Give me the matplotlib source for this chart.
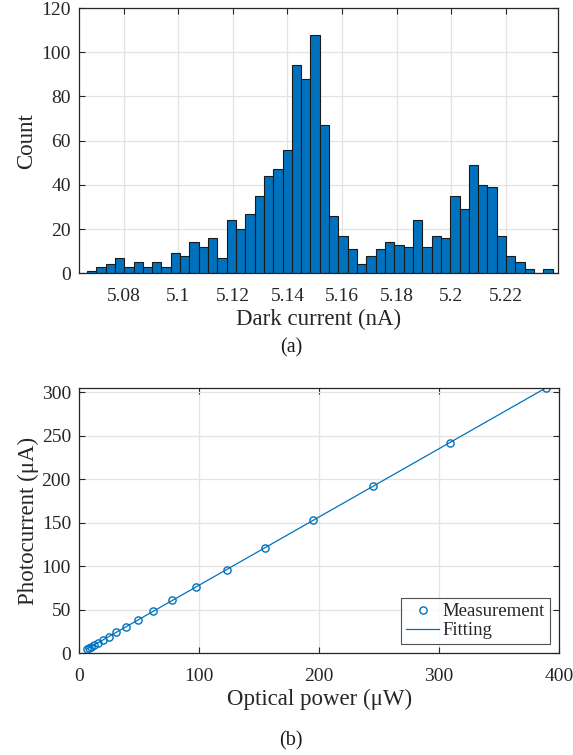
import numpy as np
import matplotlib
matplotlib.use("Agg")
import matplotlib.pyplot as plt

plt.rcParams["font.family"] = ["Liberation Serif", "DejaVu Serif"]

MATLAB_BLUE = "#0072BD"
AX_GRAY = "#262626"

# (a) dark current histogram: 50 equal bins
bin_start = 5.0666
bin_width = 0.003411
dark_counts = [1, 3, 4, 7, 3, 5, 3, 5, 3, 9,
               8, 14, 12, 16, 7, 24, 20, 27, 35, 44,
               47, 56, 94, 88, 108, 67, 26, 17, 11, 4,
               8, 11, 14, 13, 12, 24, 12, 17, 16, 35,
               29, 49, 40, 39, 17, 8, 5, 2, 0, 2]
dark_ticks = [5.08, 5.1, 5.12, 5.14, 5.16, 5.18, 5.2, 5.22]
dark_tick_labels = ["5.08", "5.1", "5.12", "5.14", "5.16", "5.18", "5.2", "5.22"]

# (b) photocurrent vs optical power
optical_power = [6.2, 7.8, 9.8, 12.3, 15.5, 19.5, 24.6, 30.9, 38.9, 49.0,
                 61.6, 77.6, 97.6, 122.9, 154.8, 194.8, 245.3, 308.8, 388.8]
photocurrent = [4.8, 6.1, 7.7, 9.6, 12.2, 15.3, 19.3, 24.2, 30.5, 38.4,
                48.3, 60.9, 76.2, 96.1, 121.2, 152.8, 192.2, 242.0, 305.2]


def style_axes(ax):
    ax.set_axisbelow(True)
    ax.grid(True, color="#e3e3e3", linewidth=0.9)
    for sp in ax.spines.values():
        sp.set_color(AX_GRAY)
        sp.set_linewidth(0.9)
    ax.tick_params(direction="in", top=True, right=True, length=4,
                   width=0.8, color=AX_GRAY, labelcolor=AX_GRAY,
                   labelsize=14)
    ax.tick_params(axis="x", pad=10.5)
    ax.tick_params(axis="y", pad=6)


fig = plt.figure(figsize=(5.73, 7.55), dpi=100)

ax1 = fig.add_axes([0.1379, 0.638, 0.8364, 0.3514])
edges = bin_start + bin_width * np.arange(len(dark_counts) + 1)
ax1.bar(edges[:-1], dark_counts, width=bin_width, align="edge",
        color=MATLAB_BLUE, edgecolor="#1a1a1a", linewidth=0.8)
ax1.set_xlim(5.0637, 5.2392)
ax1.set_ylim(0, 120)
ax1.set_xticks(dark_ticks)
ax1.set_xticklabels(dark_tick_labels)
ax1.set_yticks(range(0, 121, 20))
style_axes(ax1)
ax1.set_xlabel("Dark current (nA)", fontsize=16.5, color=AX_GRAY, labelpad=3)
ax1.set_ylabel("Count", fontsize=16.5, color=AX_GRAY, labelpad=3)
fig.text(0.508, 1 - 348 / 755, "(a)", ha="center", va="center",
         fontsize=14.5, color="#1a1a1a")

ax2 = fig.add_axes([0.1384, 0.1347, 0.8372, 0.3514])
slope, intercept = np.polyfit(optical_power, photocurrent, 1)
fit_x = np.array([min(optical_power), max(optical_power)])
ax2.plot(optical_power, photocurrent, "o", markersize=5.2, markerfacecolor="none",
         markeredgecolor=MATLAB_BLUE, markeredgewidth=1.0, label="Measurement")
ax2.plot(fit_x, slope * fit_x + intercept, "-", color=MATLAB_BLUE,
         linewidth=0.9, label="Fitting")
ax2.set_xlim(0, 400)
ax2.set_ylim(0, 305)
ax2.set_xticks(range(0, 401, 100))
ax2.set_yticks(range(0, 301, 50))
style_axes(ax2)
ax2.set_xlabel("Optical power (μW)", fontsize=16.5, color=AX_GRAY, labelpad=3)
ax2.set_ylabel("Photocurrent (μA)", fontsize=16.5, color=AX_GRAY, labelpad=2)
leg = ax2.legend(loc="lower right", fontsize=13.5, frameon=True, fancybox=False,
                 edgecolor=AX_GRAY, handlelength=1.75, handletextpad=0.2,
                 borderpad=0.25, labelspacing=0.1, borderaxespad=0.5)
leg.get_frame().set_linewidth(0.8)
for t in leg.get_texts():
    t.set_color(AX_GRAY)
fig.text(0.508, 1 - 741 / 755, "(b)", ha="center", va="center",
         fontsize=14.5, color="#1a1a1a")

fig.savefig("out.png", dpi=100)
